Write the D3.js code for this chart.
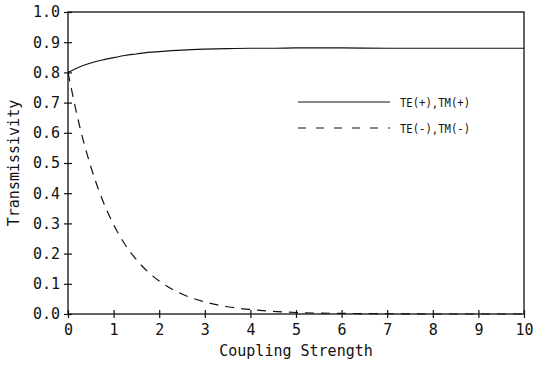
<!DOCTYPE html>
<html>
<head>
<meta charset="utf-8">
<script src="https://cdn.jsdelivr.net/npm/d3@7"></script>
<style>
  body { margin: 0; background: #fff; }
  text { font-family: "DejaVu Sans Mono", "Liberation Mono", monospace; fill: #111; }
</style>
</head>
<body>
<div id="chart"></div>
<script>
// data
const xValues = [0, 0.25, 0.5, 0.75, 1, 1.25, 1.5, 1.75, 2, 2.5, 3, 3.5, 4, 4.5, 5, 6, 7, 8, 9, 10];
const plusValues = [0.800, 0.818, 0.831, 0.841, 0.849, 0.856, 0.861, 0.866, 0.869, 0.874, 0.877, 0.879, 0.880, 0.880, 0.881, 0.881, 0.880, 0.880, 0.880, 0.880];
const minusValues = [0.800, 0.625, 0.488, 0.380, 0.296, 0.230, 0.180, 0.140, 0.109, 0.066, 0.040, 0.024, 0.015, 0.009, 0.005, 0.002, 0.001, 0.0, 0.0, 0.0];
const seriesNames = ['TE(+),TM(+)', 'TE(-),TM(-)'];
const xTicks = [0, 1, 2, 3, 4, 5, 6, 7, 8, 9, 10];
const yTicks = [0, 0.1, 0.2, 0.3, 0.4, 0.5, 0.6, 0.7, 0.8, 0.9, 1.0];

const width = 538;
const height = 366;
const plotLeft = 68, plotRight = 524, plotTop = 12, plotBottom = 314;

const svg = d3.select('#chart').append('svg')
  .attr('width', width)
  .attr('height', height);

/* Scale */
const xScale = d3.scaleLinear().domain([0, 10]).range([plotLeft, plotRight]);
const yScale = d3.scaleLinear().domain([0, 1]).range([plotBottom, plotTop]);

/* Frame */
svg.append('rect')
  .attr('x', plotLeft).attr('y', plotTop)
  .attr('width', plotRight - plotLeft).attr('height', plotBottom - plotTop)
  .attr('fill', 'none')
  .attr('stroke', '#111')
  .attr('stroke-width', 1.3);

/* Axes with cross ticks */
const xAxis = d3.axisBottom(xScale)
  .tickValues(xTicks)
  .tickSizeInner(4)
  .tickSizeOuter(0)
  .tickPadding(6)
  .tickFormat(d3.format('d'));

const yAxis = d3.axisLeft(yScale)
  .tickValues(yTicks)
  .tickSizeInner(4)
  .tickSizeOuter(0)
  .tickPadding(4)
  .tickFormat(d3.format('.1f'));

function styleAxis(g, inner) {
  g.select('.domain').remove();
  g.selectAll('.tick line').attr('stroke', '#111').attr('stroke-width', 1.2);
  g.selectAll('.tick text')
    .attr('fill', '#111')
    .style('font-size', '15px')
    .style('font-family', '"DejaVu Sans Mono", "Liberation Mono", monospace');
  g.selectAll('.tick').append('line')
    .attr(inner.attr, inner.val)
    .attr('stroke', '#111')
    .attr('stroke-width', 1.2);
}

svg.append('g')
  .attr('transform', `translate(0, ${plotBottom})`)
  .call(xAxis)
  .call(g => styleAxis(g, { attr: 'y2', val: -4 }));

svg.append('g')
  .attr('transform', `translate(${plotLeft}, 0)`)
  .call(yAxis)
  .call(g => styleAxis(g, { attr: 'x2', val: 4 }));

/* Axis titles */
svg.append('text')
  .attr('x', (plotLeft + plotRight) / 2)
  .attr('y', 356)
  .attr('text-anchor', 'middle')
  .style('font-size', '15px')
  .text('Coupling Strength');

svg.append('text')
  .attr('transform', `translate(19, ${(plotTop + plotBottom) / 2}) rotate(-90)`)
  .attr('text-anchor', 'middle')
  .style('font-size', '15px')
  .text('Transmissivity');

/* Lines */
const line = d3.line()
  .x(d => xScale(d[0]))
  .y(d => yScale(d[1]))
  .curve(d3.curveMonotoneX);

const series = [
  { name: seriesNames[0], values: xValues.map((x, i) => [x, plusValues[i]]), dash: null },
  { name: seriesNames[1], values: xValues.map((x, i) => [x, minusValues[i]]), dash: '9,7' }
];

svg.append('g').selectAll('path')
  .data(series).enter()
  .append('path')
  .attr('d', d => line(d.values))
  .attr('fill', 'none')
  .attr('stroke', '#111')
  .attr('stroke-width', 1.2)
  .attr('stroke-dasharray', d => d.dash);

/* Legend */
const legend = svg.append('g')
  .selectAll('g')
  .data(series).enter()
  .append('g')
  .attr('transform', (d, i) => `translate(298, ${102 + i * 26})`);

legend.append('line')
  .attr('x1', 0).attr('x2', 92)
  .attr('stroke', '#111')
  .attr('stroke-width', 1.2)
  .attr('stroke-dasharray', d => d.dash ? '8,10' : null);

legend.append('text')
  .attr('x', 102)
  .attr('y', 5)
  .style('font-size', '13px')
  .attr('textLength', 70)
  .attr('lengthAdjust', 'spacingAndGlyphs')
  .text(d => d.name);
</script>
</body>
</html>
